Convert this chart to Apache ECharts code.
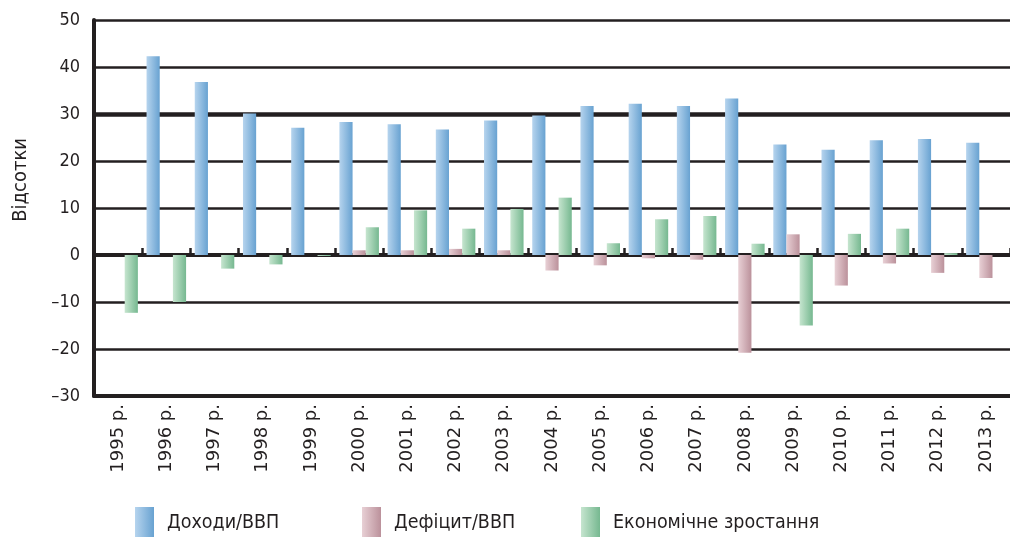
<!DOCTYPE html>
<html>
<head>
<meta charset="utf-8">
<script src="https://cdn.jsdelivr.net/npm/echarts@6/dist/echarts.min.js"></script>
<style>
html,body{margin:0;padding:0;background:#fff;}
#chart{width:1010px;height:537px;}
</style>
</head>
<body>
<div id="chart"></div>
<script>
const years = ['1995 р.','1996 р.','1997 р.','1998 р.','1999 р.','2000 р.','2001 р.','2002 р.','2003 р.','2004 р.','2005 р.','2006 р.','2007 р.','2008 р.','2009 р.','2010 р.','2011 р.','2012 р.','2013 р.'];
const revenue = [null, 42.3, 36.8, 30.1, 27.1, 28.3, 27.8, 26.7, 28.6, 29.7, 31.7, 32.2, 31.7, 33.3, 23.5, 22.4, 24.4, 24.7, 23.9];
const deficit = [null, null, null, null, null, 1.0, 1.0, 1.3, 1.0, -3.3, -2.2, -0.7, -1.0, -20.8, 4.4, -6.5, -1.8, -3.8, -4.9];
const growth = [-12.3, -10.0, -2.9, -2.0, -0.2, 5.9, 9.5, 5.6, 9.8, 12.2, 2.5, 7.6, 8.3, 2.4, -15.0, 4.5, 5.6, 0.4, 0];
const seriesNames = ['Доходи/ВВП', 'Дефіцит/ВВП', 'Економічне зростання'];
const yAxisTitle = 'Відсотки';
const Y_MIN = -30, Y_MAX = 50, Y_STEP = 10;
const emphasisLines = [30];

const ink = '#231f20';
function grad(a, b) {
  return new echarts.graphic.LinearGradient(0, 0, 1, 0, [{offset: 0, color: a}, {offset: 1, color: b}]);
}
const colors = [grad('#b6d4ee', '#68a2d1'), grad('#e8d0d5', '#bb919b'), grad('#c6e5cf', '#76b890')];
const font = 'DejaVu Sans Condensed';

const chart = echarts.init(document.getElementById('chart'), null, {renderer: 'canvas'});
const seriesData = [revenue, deficit, growth];
chart.setOption({
  animation: false,
  backgroundColor: '#fff',
  grid: {left: 94, top: 20, right: -8, bottom: 141, containLabel: false},
  legend: seriesNames.map((n, i) => ({
    data: [n],
    left: [130, 357, 576][i],
    top: 502,
    itemWidth: 19,
    itemHeight: 32,
    icon: 'rect',
    textStyle: {fontFamily: font, fontSize: 19.5, color: ink, padding: [0, 0, 0, 8]},
    selectedMode: false
  })),
  graphic: [{
    type: 'text',
    left: 11,
    top: 138,
    rotation: Math.PI / 2,
    style: {text: yAxisTitle, font: '20px "DejaVu Sans Condensed"', fill: ink}
  }],
  xAxis: [{
    type: 'category',
    data: years,
    axisLine: {onZero: true, lineStyle: {color: ink, width: 4}},
    axisTick: {show: true, inside: true, interval: 0, length: 7, lineStyle: {color: ink, width: 2.5}},
    axisLabel: {show: false},
    splitLine: {show: false}
  }, {
    type: 'category',
    data: years,
    position: 'bottom',
    axisLine: {show: true, onZero: false, lineStyle: {color: ink, width: 4}},
    axisTick: {show: false},
    axisLabel: {rotate: 90, interval: 0, margin: 8, fontFamily: 'DejaVu Sans', fontSize: 18, color: ink}
  }],
  yAxis: {
    type: 'value',
    min: Y_MIN, max: Y_MAX, interval: Y_STEP,
    axisLine: {show: true, lineStyle: {color: ink, width: 4}},
    axisTick: {show: false},
    axisLabel: {margin: 14, fontFamily: font, fontSize: 18, color: ink,
      formatter: v => (v < 0 ? '–' + Math.abs(v) : String(v))},
    splitLine: {lineStyle: {color: ink, width: 2.5}}
  },
  series: seriesNames.map((n, i) => ({
    name: n,
    type: 'bar',
    data: seriesData[i],
    barGap: '0%',
    barCategoryGap: '18%',
    itemStyle: {color: colors[i]},
    markLine: i === 0 ? {
      silent: true, symbol: 'none', label: {show: false},
      lineStyle: {color: ink, width: 4.5, type: 'solid'},
      data: emphasisLines.map(v => ({yAxis: v})),
      z: 1
    } : undefined
  }))
});
</script>
</body>
</html>
